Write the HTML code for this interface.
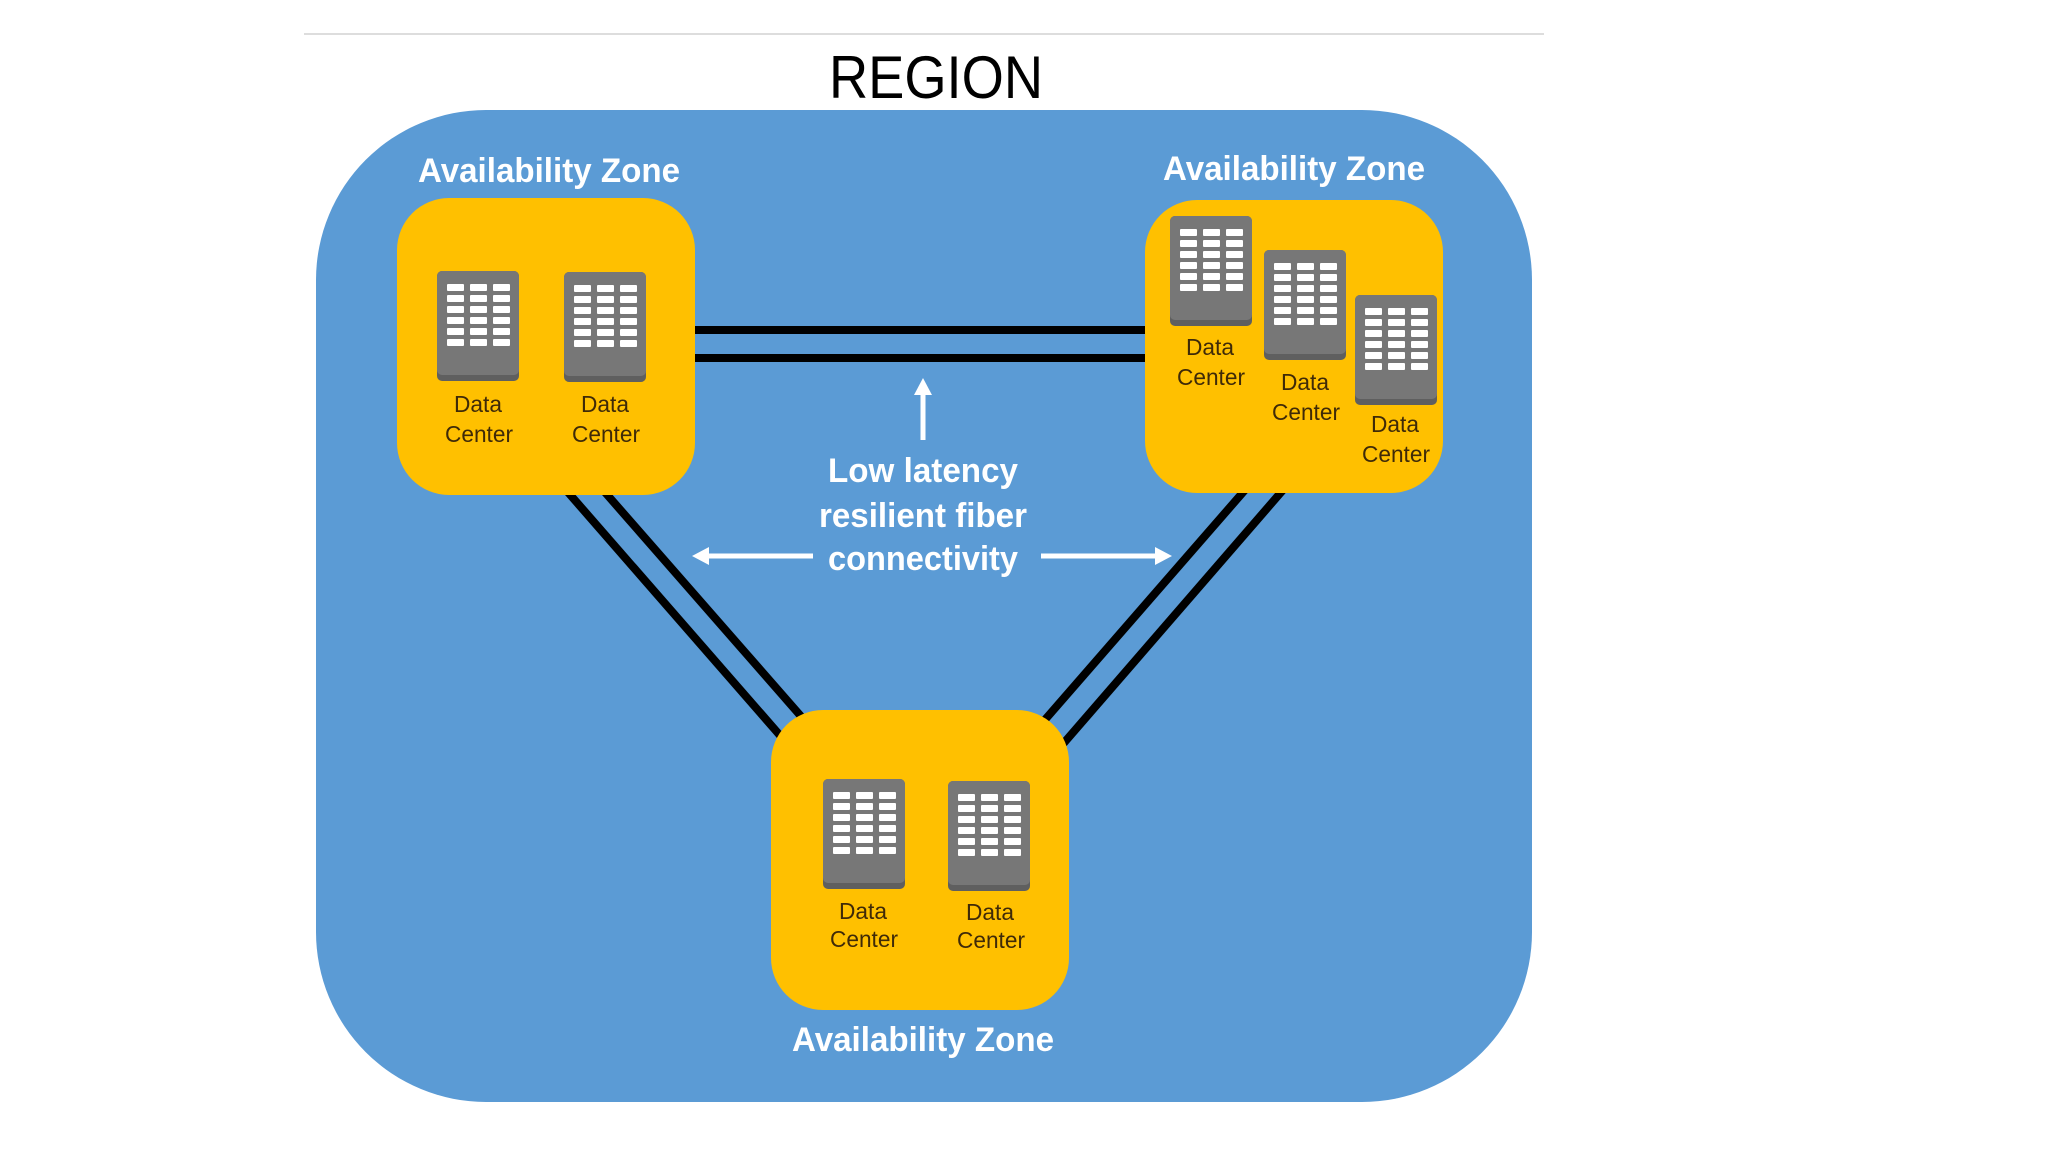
<!DOCTYPE html>
<html><head><meta charset="utf-8"><style>
html,body{margin:0;padding:0;background:#fff;}
svg{display:block;}
</style></head><body>
<svg width="2048" height="1152" viewBox="0 0 2048 1152" xmlns="http://www.w3.org/2000/svg">
<defs>
<g id="dc">
<rect x="0" y="0" width="82" height="110" rx="5" fill="#5f5f5f"/>
<rect x="0" y="0" width="82" height="104" rx="5" fill="#777"/>
<g fill="#fff">
<rect x="10" y="13" width="17" height="7" rx="1"/><rect x="33" y="13" width="17" height="7" rx="1"/><rect x="56" y="13" width="17" height="7" rx="1"/>
<rect x="10" y="24" width="17" height="7" rx="1"/><rect x="33" y="24" width="17" height="7" rx="1"/><rect x="56" y="24" width="17" height="7" rx="1"/>
<rect x="10" y="35" width="17" height="7" rx="1"/><rect x="33" y="35" width="17" height="7" rx="1"/><rect x="56" y="35" width="17" height="7" rx="1"/>
<rect x="10" y="46" width="17" height="7" rx="1"/><rect x="33" y="46" width="17" height="7" rx="1"/><rect x="56" y="46" width="17" height="7" rx="1"/>
<rect x="10" y="57" width="17" height="7" rx="1"/><rect x="33" y="57" width="17" height="7" rx="1"/><rect x="56" y="57" width="17" height="7" rx="1"/>
<rect x="10" y="68" width="17" height="7" rx="1"/><rect x="33" y="68" width="17" height="7" rx="1"/><rect x="56" y="68" width="17" height="7" rx="1"/>
</g>
</g>
</defs>
<line x1="304" y1="34" x2="1544" y2="34" stroke="#ddd" stroke-width="2"/>
<text x="936" y="98" text-anchor="middle" font-family="Liberation Sans, sans-serif" font-size="60" fill="#000" textLength="214" lengthAdjust="spacingAndGlyphs">REGION</text>
<rect x="316" y="110" width="1216" height="992" rx="170" fill="#5b9bd5"/>
<g stroke="#000" stroke-width="8">
<line x1="695" y1="330" x2="1155" y2="330"/>
<line x1="695" y1="358" x2="1155" y2="358"/>
<line x1="566" y1="490" x2="784" y2="740"/>
<line x1="603" y1="490" x2="806" y2="722"/>
<line x1="1245" y1="490" x2="1043" y2="722"/>
<line x1="1283" y1="490" x2="1063" y2="744"/>
</g>
<rect x="397" y="198" width="298" height="297" rx="52" fill="#ffc000"/>
<rect x="1145" y="200" width="298" height="293" rx="52" fill="#ffc000"/>
<rect x="771" y="710" width="298" height="300" rx="52" fill="#ffc000"/>
<use href="#dc" x="437" y="271"/>
<use href="#dc" x="564" y="272"/>
<use href="#dc" x="1170" y="216"/>
<use href="#dc" x="1264" y="250"/>
<use href="#dc" x="1355" y="295"/>
<use href="#dc" x="823" y="779"/>
<use href="#dc" x="948" y="781"/>
<g font-family="Liberation Sans, sans-serif" font-size="23" fill="#3f2a08" text-anchor="middle">
<text x="478" y="412" textLength="48" lengthAdjust="spacingAndGlyphs">Data</text>
<text x="479" y="442" textLength="68" lengthAdjust="spacingAndGlyphs">Center</text>
<text x="605" y="412" textLength="48" lengthAdjust="spacingAndGlyphs">Data</text>
<text x="606" y="442" textLength="68" lengthAdjust="spacingAndGlyphs">Center</text>
<text x="1210" y="355" textLength="48" lengthAdjust="spacingAndGlyphs">Data</text>
<text x="1211" y="385" textLength="68" lengthAdjust="spacingAndGlyphs">Center</text>
<text x="1305" y="390" textLength="48" lengthAdjust="spacingAndGlyphs">Data</text>
<text x="1306" y="420" textLength="68" lengthAdjust="spacingAndGlyphs">Center</text>
<text x="1395" y="432" textLength="48" lengthAdjust="spacingAndGlyphs">Data</text>
<text x="1396" y="462" textLength="68" lengthAdjust="spacingAndGlyphs">Center</text>
<text x="863" y="919" textLength="48" lengthAdjust="spacingAndGlyphs">Data</text>
<text x="864" y="947" textLength="68" lengthAdjust="spacingAndGlyphs">Center</text>
<text x="990" y="920" textLength="48" lengthAdjust="spacingAndGlyphs">Data</text>
<text x="991" y="948" textLength="68" lengthAdjust="spacingAndGlyphs">Center</text>
</g>
<g font-family="Liberation Sans, sans-serif" font-weight="bold" fill="#fff" text-anchor="middle">
<text x="549" y="182" font-size="34" textLength="262" lengthAdjust="spacingAndGlyphs">Availability Zone</text>
<text x="1294" y="180" font-size="34" textLength="262" lengthAdjust="spacingAndGlyphs">Availability Zone</text>
<text x="923" y="1051" font-size="34" textLength="262" lengthAdjust="spacingAndGlyphs">Availability Zone</text>
<text x="923" y="482" font-size="34" textLength="190" lengthAdjust="spacingAndGlyphs">Low latency</text>
<text x="923" y="527" font-size="34" textLength="208" lengthAdjust="spacingAndGlyphs">resilient fiber</text>
<text x="923" y="570" font-size="34" textLength="190" lengthAdjust="spacingAndGlyphs">connectivity</text>
</g>
<g stroke="#fff" stroke-width="5" fill="#fff">
<line x1="923" y1="440" x2="923" y2="392"/>
<polygon points="923,378 914,395 932,395" stroke="none"/>
<line x1="813" y1="556" x2="706" y2="556"/>
<polygon points="692,556 709,547 709,565" stroke="none"/>
<line x1="1041" y1="556" x2="1158" y2="556"/>
<polygon points="1172,556 1155,547 1155,565" stroke="none"/>
</g>
</svg>
</body></html>
